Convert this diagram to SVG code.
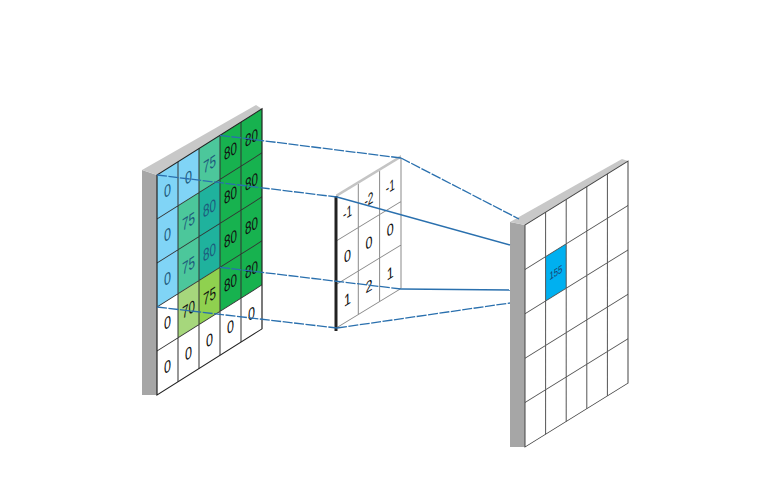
<svg xmlns="http://www.w3.org/2000/svg" width="757" height="489" viewBox="0 0 757 489">
<style>
.side{fill:#a6a6a6}
.top{fill:#c8c8c8}
.gl{stroke:#333;stroke-width:1;fill:none}
.gr{stroke:#555;stroke-width:1;fill:none}
.gk{stroke:#8a8a8a;stroke-width:1;fill:none}
.t{font-family:"Liberation Sans",Arial,sans-serif;font-size:17px;text-anchor:middle;dominant-baseline:central}
.tb{fill:#1d5a7c}
.tk{fill:#111}
.con{stroke:#2a70ae;stroke-width:1.3;fill:none}
.dash{stroke-dasharray:10 1.5}
</style>
<rect width="757" height="489" fill="#fff"/>

<g id="input">
  <polygon class="side" points="142,170 157,175 157,395 142,395"/>
  <polygon class="top" points="142,170 256,105 262,108.9 157,175"/>
  <g transform="matrix(1,-0.63,0,1,157,175)">
    <rect x="0" y="0" width="105" height="220" fill="#fff"/>
    <rect x="0" y="0" width="21" height="132" fill="#80d4f6"/>
    <rect x="21" y="0" width="21" height="44" fill="#80d4f6"/>
    <rect x="42" y="0" width="21" height="44" fill="#4cc79b"/>
    <rect x="21" y="44" width="21" height="88" fill="#4cc79b"/>
    <rect x="42" y="44" width="21" height="88" fill="#1fb29d"/>
    <rect x="63" y="0" width="42" height="176" fill="#17b24f"/>
    <rect x="21" y="132" width="21" height="44" fill="#a6d77c"/>
    <rect x="42" y="132" width="21" height="44" fill="#8fd14f"/>
    <path class="gl" d="M21,0V220M42,0V220M63,0V220M84,0V220M0,44H105M0,88H105M0,132H105M0,176H105"/>
    <rect x="0" y="0" width="105" height="220" fill="none" stroke="#222" stroke-width="1.2"/>
    <g class="t">
      <text class="tb" x="10.5" y="22" textLength="7" lengthAdjust="spacingAndGlyphs">0</text>
      <text class="tb" x="31.5" y="22" textLength="7" lengthAdjust="spacingAndGlyphs">0</text>
      <text class="tb" x="52.5" y="22" textLength="13" lengthAdjust="spacingAndGlyphs">75</text>
      <text class="tk" x="73.5" y="22" textLength="13" lengthAdjust="spacingAndGlyphs">80</text>
      <text class="tk" x="94.5" y="22" textLength="13" lengthAdjust="spacingAndGlyphs">80</text>
      <text class="tb" x="10.5" y="66" textLength="7" lengthAdjust="spacingAndGlyphs">0</text>
      <text class="tb" x="31.5" y="66" textLength="13" lengthAdjust="spacingAndGlyphs">75</text>
      <text class="tb" x="52.5" y="66" textLength="13" lengthAdjust="spacingAndGlyphs">80</text>
      <text class="tk" x="73.5" y="66" textLength="13" lengthAdjust="spacingAndGlyphs">80</text>
      <text class="tk" x="94.5" y="66" textLength="13" lengthAdjust="spacingAndGlyphs">80</text>
      <text class="tb" x="10.5" y="110" textLength="7" lengthAdjust="spacingAndGlyphs">0</text>
      <text class="tb" x="31.5" y="110" textLength="13" lengthAdjust="spacingAndGlyphs">75</text>
      <text class="tb" x="52.5" y="110" textLength="13" lengthAdjust="spacingAndGlyphs">80</text>
      <text class="tk" x="73.5" y="110" textLength="13" lengthAdjust="spacingAndGlyphs">80</text>
      <text class="tk" x="94.5" y="110" textLength="13" lengthAdjust="spacingAndGlyphs">80</text>
      <text class="tk" x="10.5" y="154" textLength="7" lengthAdjust="spacingAndGlyphs">0</text>
      <text class="tk" x="31.5" y="154" textLength="13" lengthAdjust="spacingAndGlyphs">70</text>
      <text class="tk" x="52.5" y="154" textLength="13" lengthAdjust="spacingAndGlyphs">75</text>
      <text class="tk" x="73.5" y="154" textLength="13" lengthAdjust="spacingAndGlyphs">80</text>
      <text class="tk" x="94.5" y="154" textLength="13" lengthAdjust="spacingAndGlyphs">80</text>
      <text class="tk" x="10.5" y="198" textLength="7" lengthAdjust="spacingAndGlyphs">0</text>
      <text class="tk" x="31.5" y="198" textLength="7" lengthAdjust="spacingAndGlyphs">0</text>
      <text class="tk" x="52.5" y="198" textLength="7" lengthAdjust="spacingAndGlyphs">0</text>
      <text class="tk" x="73.5" y="198" textLength="7" lengthAdjust="spacingAndGlyphs">0</text>
      <text class="tk" x="94.5" y="198" textLength="7" lengthAdjust="spacingAndGlyphs">0</text>
    </g>
  </g>
</g>

<g id="kernel">
  <g transform="matrix(1,-0.61,0,1,337,197)">
    <rect x="0" y="0" width="64" height="130.5" fill="#fff"/>
    <path class="gk" d="M21.3,0V130.5M42.6,0V130.5M64,0V130.5M0,43.5H64M0,87H64M0,130.5H64"/>
    <line x1="-1" y1="-1.5" x2="64" y2="-1.5" stroke="#c4c4c4" stroke-width="3"/>
    <g class="t tk" style="font-size:16px">
      <text x="10.6" y="21.7" textLength="9" lengthAdjust="spacingAndGlyphs">-1</text>
      <text x="32" y="21.7" textLength="9" lengthAdjust="spacingAndGlyphs">-2</text>
      <text x="53.3" y="21.7" textLength="9" lengthAdjust="spacingAndGlyphs">-1</text>
      <text x="10.6" y="65.2" textLength="7" lengthAdjust="spacingAndGlyphs">0</text>
      <text x="32" y="65.2" textLength="7" lengthAdjust="spacingAndGlyphs">0</text>
      <text x="53.3" y="65.2" textLength="7" lengthAdjust="spacingAndGlyphs">0</text>
      <text x="10.6" y="108.7" textLength="7" lengthAdjust="spacingAndGlyphs">1</text>
      <text x="32" y="108.7" textLength="7" lengthAdjust="spacingAndGlyphs">2</text>
      <text x="53.3" y="108.7" textLength="7" lengthAdjust="spacingAndGlyphs">1</text>
    </g>
  </g>
  <line x1="336" y1="196" x2="336" y2="331" stroke="#222" stroke-width="3"/>
</g>

<g id="output">
  <polygon class="side" points="510,222 525,225 525,447 510,447"/>
  <polygon class="top" points="510,222 622,159 628,161.1 525,225"/>
  <g transform="matrix(1,-0.62,0,1,525,225)">
    <rect x="0" y="0" width="103" height="222" fill="#fff"/>
    <rect x="20.6" y="44.4" width="20.6" height="44.4" fill="#00b0f0"/>
    <path class="gr" d="M20.6,0V222M41.2,0V222M61.8,0V222M82.4,0V222M0,44.4H103M0,88.8H103M0,133.2H103M0,177.6H103"/>
    <rect x="0" y="0" width="103" height="222" fill="none" stroke="#444" stroke-width="1"/>
    <text x="30.9" y="66.6" class="t" style="font-size:11px;fill:#1b3d6e" textLength="13" lengthAdjust="spacingAndGlyphs">155</text>
  </g>
</g>

<g id="connectors">
  <polyline class="con dash" points="220,135.3 401,158"/>
  <polyline class="con dash" points="401,158 519,219"/>
  <polyline class="con dash" points="157,175 337,197"/>
  <polyline class="con" points="337,197 510,245"/>
  <polyline class="con dash" points="220,267.3 401,289"/>
  <polyline class="con" points="401,289 510,290"/>
  <polyline class="con dash" points="157,307 337,328"/>
  <polyline class="con dash" points="337,328 510,303"/>
</g>
</svg>
